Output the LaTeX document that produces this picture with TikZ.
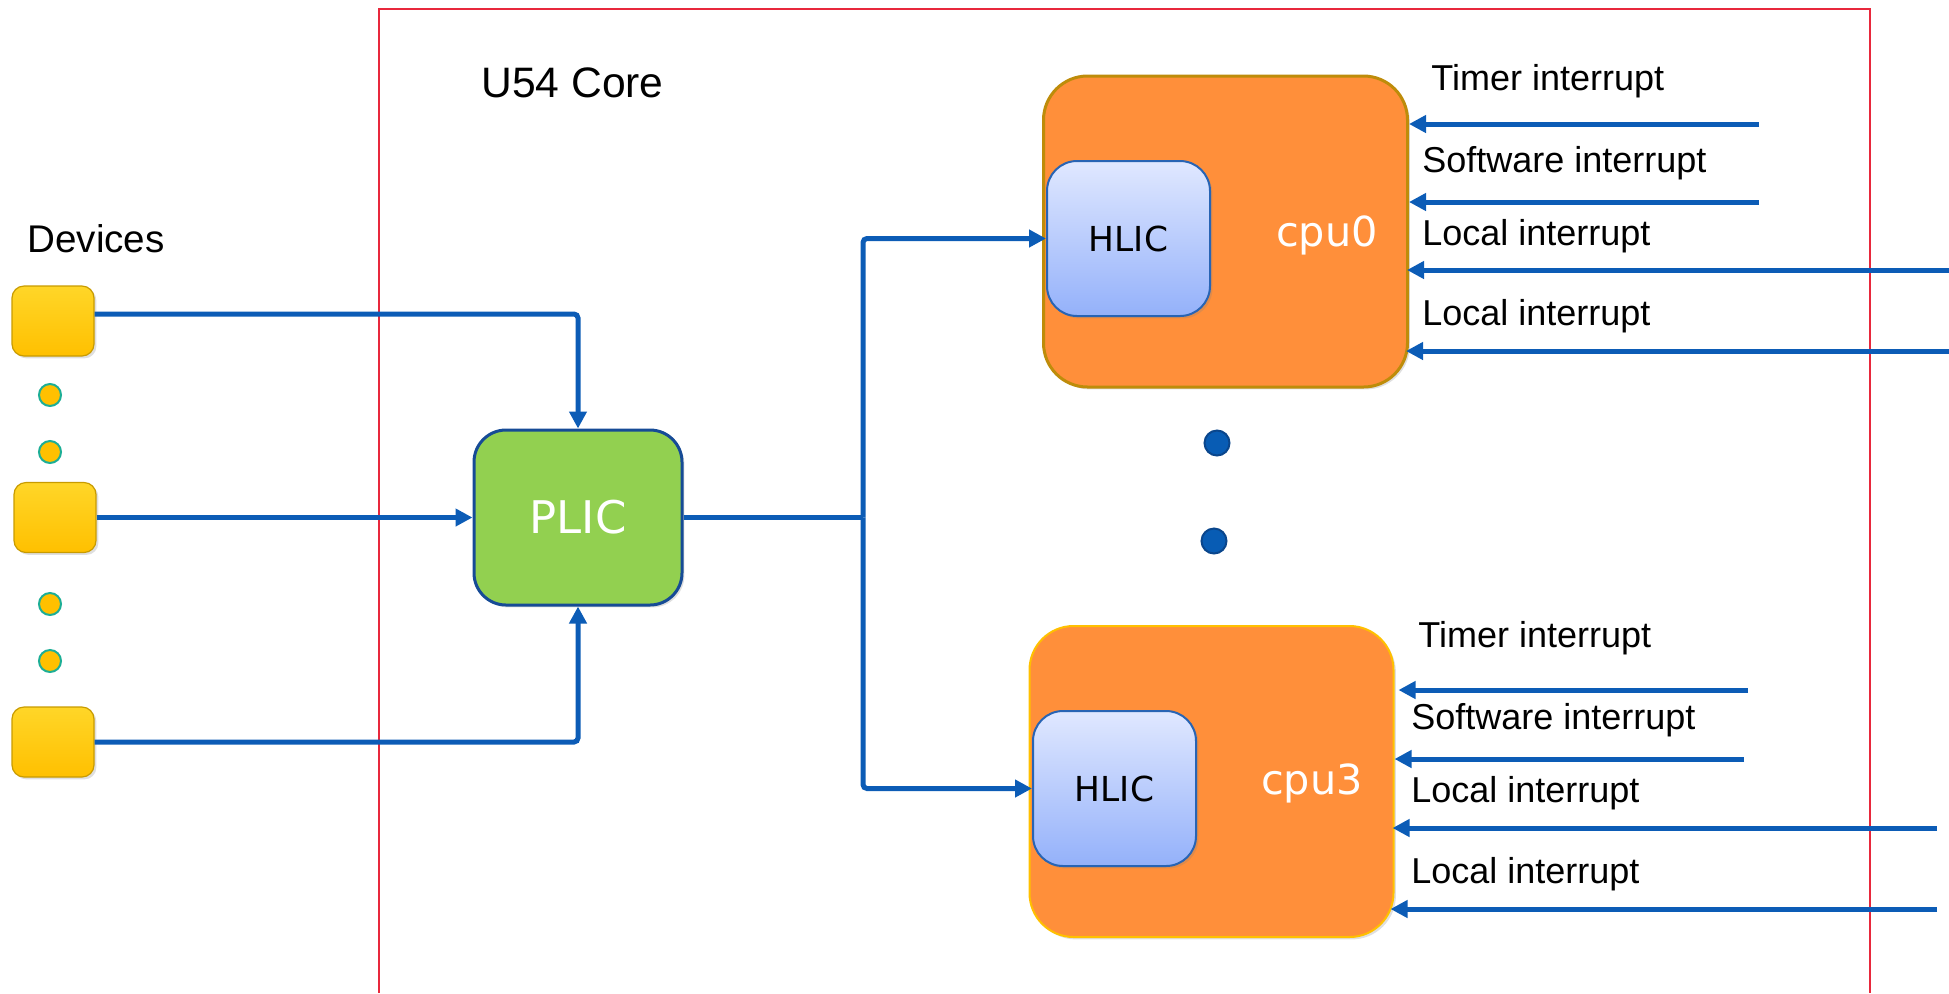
\documentclass[tikz,border=0pt]{standalone}
\usepackage{fontspec}
\setmainfont{Liberation Sans}
\newfontfamily\dv{DejaVu Sans}
\usetikzlibrary{arrows.meta,shadows,calc}
\definecolor{arrblue}{RGB}{12,92,182}
\definecolor{frame}{RGB}{232,40,60}
\definecolor{cpuorange}{RGB}{255,143,58}
\definecolor{cpuzeroedge}{RGB}{190,140,10}
\definecolor{cputhreeedge}{RGB}{255,192,0}
\definecolor{plicgreen}{RGB}{146,208,80}
\definecolor{plicedge}{RGB}{22,75,150}
\definecolor{hlictop}{RGB}{224,232,255}
\definecolor{hlicbot}{RGB}{148,177,250}
\definecolor{hlicedge}{RGB}{40,100,180}
\definecolor{devtop}{RGB}{255,214,40}
\definecolor{devbot}{RGB}{255,192,0}
\definecolor{devedge}{RGB}{200,155,0}
\definecolor{dotteal}{RGB}{28,174,150}
\definecolor{bluedot}{RGB}{8,92,180}
\definecolor{bluedotedge}{RGB}{10,70,140}
\tikzset{
  arr/.style={draw=arrblue, line width=2.5pt, -{Triangle[length=8.5pt,width=8.5pt]}},
  conn/.style={draw=arrblue, line width=2.5pt, rounded corners=2pt},
  shad/.style={drop shadow={opacity=0.25,shadow xshift=1.2pt,shadow yshift=-1.2pt}},
  devbox/.style={shad, rounded corners=6pt, top color=devtop, bottom color=devbot, draw=devedge, line width=0.6pt, minimum width=41pt, minimum height=35pt, inner sep=0pt},
  devdot/.style={circle, fill=devbot, draw=dotteal, line width=1pt, minimum size=11pt, inner sep=0pt},
  bdot/.style={circle, fill=bluedot, draw=bluedotedge, line width=1pt, minimum size=12.5pt, inner sep=0pt},
  plicbox/.style={shad, rounded corners=16pt, fill=plicgreen, draw=plicedge, line width=1.5pt, minimum width=104pt, minimum height=87.5pt, font=\dv\fontsize{22.5}{27}\selectfont, text=white},
  cpubox/.style={shad, rounded corners=22pt, fill=cpuorange, minimum width=182pt, minimum height=155.5pt, inner sep=0pt},
  hlicbox/.style={shad, rounded corners=15pt, top color=hlictop, bottom color=hlicbot, draw=hlicedge, line width=1pt, minimum width=81.5pt, minimum height=77.5pt, font=\dv\fontsize{17.2}{20}\selectfont},
  cputext/.style={font=\dv\fontsize{20.7}{24}\selectfont, text=white, inner sep=0pt},
  lbl/.style={anchor=base west, inner sep=0pt, font=\fontsize{18}{21}\selectfont},
  title/.style={anchor=base west, inner sep=0pt, font=\fontsize{21.3}{25}\selectfont},
}
\begin{document}
\begin{tikzpicture}[x=0.5pt,y=-0.5pt]
\useasboundingbox (0,0) rectangle (1949,993);
% frame
\coordinate (fbl) at (379,993);
\coordinate (ftl) at (379,9);
\coordinate (ftr) at (1870,9);
\coordinate (fbr) at (1870,993);
\draw[frame, line width=1pt] (fbl) -- (ftl) -- (ftr) -- (fbr);
% titles
\node[title] (u54) at (481,97) {U54 Core};
\node[title, font=\fontsize{19.3}{23}\selectfont] (devtitle) at (27,252) {Devices};
% devices
\node[devbox] (dev1) at (53,321) {};
\node[devbox] (dev2) at (55,517.5) {};
\node[devbox] (dev3) at (53,742) {};
\node[devdot] (d1) at (50,395) {};
\node[devdot] (d2) at (50,452) {};
\node[devdot] (d3) at (50,604) {};
\node[devdot] (d4) at (50,661) {};
% PLIC
\node[plicbox] (plic) at (578,517.5) {PLIC};
% CPUs
\node[cpubox, draw=cpuzeroedge, line width=1.5pt] (cpu0) at (1225.5,231.5) {};
\node[cpubox, draw=cputhreeedge, line width=1pt] (cpu3) at (1211.5,781.5) {};
\node[hlicbox] (hlic0) at (1128.5,238.5) {HLIC};
\node[hlicbox] (hlic3) at (1114.5,788.5) {HLIC};
\node[cputext] (c0) at (1327,235) {cpu0};
\node[cputext] (c3) at (1312,783) {cpu3};
% blue dots
\node[bdot] (b1) at (1217,443) {};
\node[bdot] (b2) at (1214,541) {};
% device connectors
\draw[arr, rounded corners=2pt] ([yshift=3.5pt]dev1.east) -| (plic.north);
\draw[arr] (dev2.east) -- (plic.west);
\draw[arr, rounded corners=2pt] (dev3.east) -| (plic.south);
% PLIC to HLICs
\coordinate (j) at (863,517.5);
\draw[conn] (plic.east) -- (j);
\draw[arr, rounded corners=2pt] (j) |- (hlic0.west);
\draw[arr, rounded corners=2pt] (j) |- (hlic3.west);
% cpu0 interrupts
\coordinate (a1) at (1759,124);
\coordinate (a2) at (1759,202);
\coordinate (a3) at (1949,270);
\coordinate (a4) at (1949,351);
\draw[arr] (a1) -- (a1 -| cpu0.east);
\draw[arr] (a2) -- (a2 -| cpu0.east);
\draw[arr] (a3) -- ($(a3 -| cpu0.east)+(-2,0)$);
\draw[arr] (a4) -- ($(a4 -| cpu0.east)+(-3,0)$);
\node[lbl] (l1) at (1431,90) {Timer interrupt};
\node[lbl] (l2) at (1422,172) {Software interrupt};
\node[lbl] (l3) at (1422,245) {Local interrupt};
\node[lbl] (l4) at (1422,325) {Local interrupt};
% cpu3 interrupts
\coordinate (b1s) at (1748,690);
\coordinate (b2s) at (1744,759);
\coordinate (b3s) at (1937,828);
\coordinate (b4s) at (1937,909);
\draw[arr] (b1s) -- ($(b1s -| cpu3.east)+(4,0)$);
\draw[arr] (b2s) -- (b2s -| cpu3.east);
\draw[arr] (b3s) -- ($(b3s -| cpu3.east)+(-2,0)$);
\draw[arr] (b4s) -- ($(b4s -| cpu3.east)+(-4,0)$);
\node[lbl] (m1) at (1418,647) {Timer interrupt};
\node[lbl] (m2) at (1411,729) {Software interrupt};
\node[lbl] (m3) at (1411,802) {Local interrupt};
\node[lbl] (m4) at (1411,883) {Local interrupt};
\end{tikzpicture}
\end{document}
